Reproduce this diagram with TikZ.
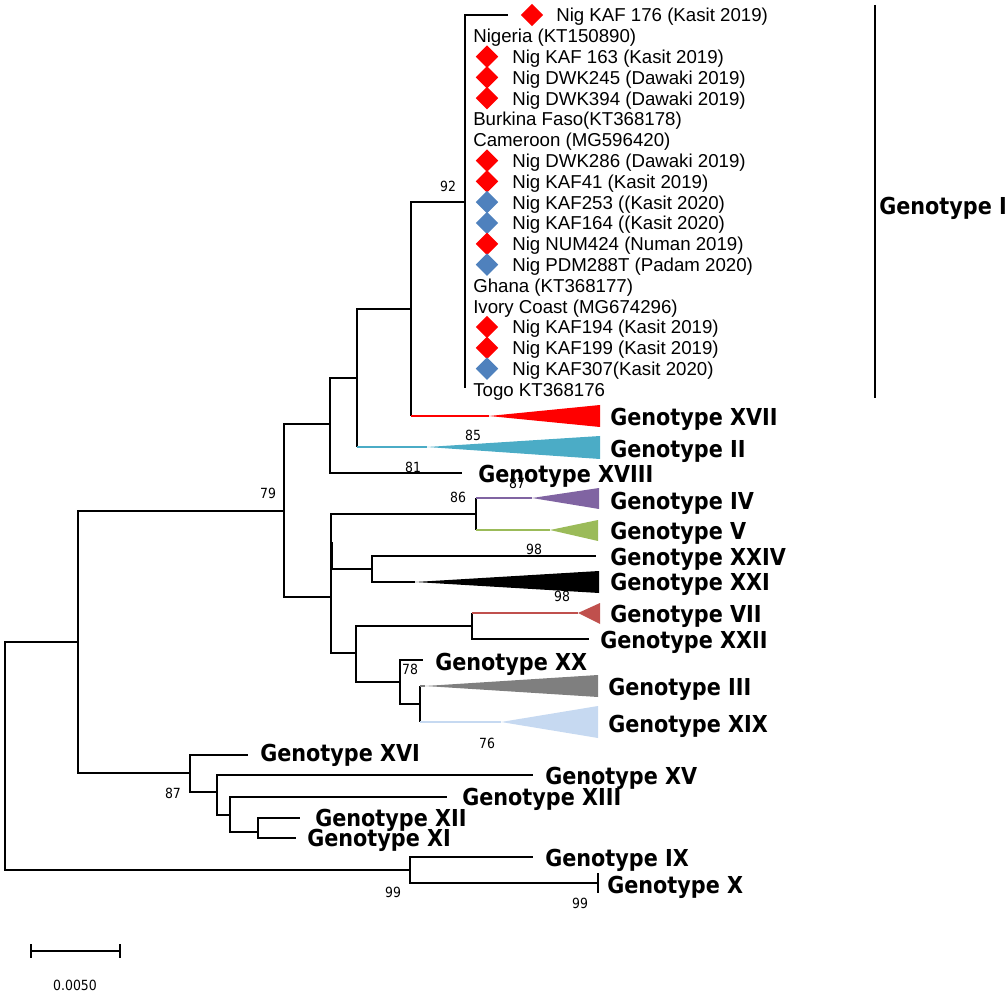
\documentclass[tikz,border=0pt]{standalone}
\usepackage{fontspec}
\setmainfont{Liberation Sans}
\newfontfamily\genofont[FakeStretch=0.89]{DejaVu Sans}
\usepackage{tikz}
\usetikzlibrary{shapes.geometric,calc}
\definecolor{gii}{HTML}{4BACC6}
\definecolor{giv}{HTML}{8064A2}
\definecolor{gv}{HTML}{9BBB59}
\definecolor{gvii}{HTML}{C0504D}
\definecolor{giii}{HTML}{7F7F7F}
\definecolor{gxix}{HTML}{C6D9F1}
\definecolor{nigblue}{HTML}{4F81BD}

\begin{document}
\begin{tikzpicture}[
x=0.75pt,
y=-0.75pt,
twig/.style={
  line width=1.1pt
  },
ctwig/.style={
  line width=0.9pt,
  draw=#1
  },
geno/.style={
  anchor=base west,
  inner sep=0pt,
  font=\genofont\bfseries\fontsize{17.5}{20}\selectfont
  },
taxon/.style={
  anchor=base west,
  inner sep=0pt,
  font=\fontsize{14}{16}\selectfont
  },
boot/.style={
  inner sep=0pt,
  font=\genofont\fontsize{10.5}{12}\selectfont
  },
dia/.style={
  diamond,
  fill=#1,
  inner sep=0pt,
  minimum size=17pt
  }
]
\useasboundingbox (0,0) rectangle (1006,994);

% internal nodes
\coordinate (root) at (5,756);
\coordinate (nB) at (78,642);
\coordinate (nC) at (284,511);
\coordinate (nH) at (330,424);
\coordinate (nQ) at (357,378);
\coordinate (nA) at (411,309);
\coordinate (nI) at (465,202);
\coordinate (nJ) at (331,597);
\coordinate (nK) at (476,514);
\coordinate (nL) at (372,569);
\coordinate (nM) at (356,653);
\coordinate (nN) at (472,626);
\coordinate (nO) at (400,682);
\coordinate (nP) at (420,704);
\coordinate (nD) at (190,773);
\coordinate (nE) at (217,792);
\coordinate (nF) at (230,815);
\coordinate (nG) at (258,832);
\coordinate (nX) at (410,870);

% tips
\coordinate (top) at (508,15);
\coordinate (togo) at (465,388);
\coordinate (tXVII) at (489,416);
\coordinate (tII) at (427,447);
\coordinate (tXVIII) at (462,473);
\coordinate (tIV) at (532,498);
\coordinate (tV) at (550,530);
\coordinate (tXXIV) at (596,556);
\coordinate (tXXI) at (415,582);
\coordinate (tVII) at (578,613);
\coordinate (tXXII) at (589,639);
\coordinate (tXX) at (423,660);
\coordinate (tIII) at (425,686);
\coordinate (tXIX) at (501,722);
\coordinate (tXVI) at (248,755);
\coordinate (tXV) at (533,775);
\coordinate (tXIII) at (447,797);
\coordinate (tXII) at (300,818);
\coordinate (tXI) at (296,838);
\coordinate (tIX) at (533,857);
\coordinate (tX) at (598,883);

\foreach \p/\c in {root/nB, root/nX, nB/nC, nB/nD, nC/nH, nC/nJ, nH/nQ, nH/tXVIII,
  nQ/nA, nA/nI, nI/top, nI/togo, nJ/nK, nJ/nL, nJ/nM, nL/tXXIV, nL/tXXI,
  nM/nN, nM/nO, nN/tXXII, nO/tXX, nO/nP, nD/tXVI, nD/nE, nE/tXV, nE/nF,
  nF/tXIII, nF/nG, nG/tXII, nG/tXI, nX/tIX, nX/tX}
  \draw[twig] (\p) |- (\c);

\foreach \p/\c/\col in {nA/tXVII/red, nQ/tII/gii, nK/tIV/giv, nK/tV/gv,
  nN/tVII/gvii, nP/tIII/giii, nP/tXIX/gxix}
{
  \draw[twig] (\p) -- (\p|-\c);
  \draw[ctwig=\col] (\p|-\c) -- (\c);
}

\draw[line width=2.2pt] ($(nJ)+(1,-55)$) -- ($(nJ)+(1,-29)$);
\draw[twig] ($(tX)+(0,-10)$) -- ($(tX)+(0,10)$);

% collapsed clades
\foreach \t/\col/\bx/\ya/\yb in {tXVII/red/600/405/427, tII/gii/600/436/459,
  tIV/giv/599/488/509, tV/gv/598/520/541, tXXI/black/599/571/593,
  tVII/gvii/600/603/624, tIII/giii/598/675/697, tXIX/gxix/598/706/738}
  \fill[\col] (\t) -- (\bx,\ya) -- (\bx,\yb) -- cycle;

% genotype I taxa
\node[dia=red] (d0) at (532,15) {};
\node[taxon] (t0) at (556,22) {Nig KAF 176 (Kasit 2019)};
\foreach \i/\txt in {1/{Nigeria (KT150890)}, 5/{Burkina Faso(KT368178)},
  6/{Cameroon (MG596420)}, 13/{Ghana (KT368177)},
  14/{Ivory Coast (MG674296)}, 18/{Togo KT368176}}
  \node[taxon] (t\i) at (473,{22+20.8*\i}) {\txt};
\foreach \i/\col/\txt in {2/red/{Nig KAF 163 (Kasit 2019)},
  3/red/{Nig DWK245 (Dawaki 2019)}, 4/red/{Nig DWK394 (Dawaki 2019)},
  7/red/{Nig DWK286 (Dawaki 2019)}, 8/red/{Nig KAF41 (Kasit 2019)},
  9/nigblue/{Nig KAF253 ((Kasit 2020)}, 10/nigblue/{Nig KAF164 ((Kasit 2020)},
  11/red/{Nig NUM424 (Numan 2019)}, 12/nigblue/{Nig PDM288T (Padam 2020)},
  15/red/{Nig KAF194 (Kasit 2019)}, 16/red/{Nig KAF199 (Kasit 2019)},
  17/nigblue/{Nig KAF307(Kasit 2020)}}
{
  \node[dia=\col] (d\i) at (487,{15+20.8*\i}) {};
  \node[taxon] (t\i) at (512,{22+20.8*\i}) {\txt};
}

\coordinate (barT) at (875,5);
\coordinate (barB) at (875,398);
\draw[line width=2.2pt] (barT) -- (barB);
\node[geno] (lI) at (879,215) {Genotype I};

\foreach \g/\lx/\ly in {XVII/610/418, II/610/449, XVIII/478/475, IV/610/501,
  V/610/531, XXIV/610/557, XXI/610/582, VII/610/614, XXII/600/640,
  XX/435/662, III/608/687, XIX/608/724, XVI/260/753, XV/545/776,
  XIII/462/797, XII/315/818, XI/307/838, IX/545/858, X/607/885}
  \node[geno] (l\g) at (\lx,{\ly+8}) {Genotype \g};

\foreach \b/\bx/\by [count=\k] in {92/448/186, 85/473/435, 81/413/467,
  87/517/483, 79/268/493, 86/458/497, 98/534/549, 98/562/596, 78/410/669,
  76/487/743, 87/173/793, 99/393/892, 99/580/903}
  \node[boot] (b\k) at (\bx,\by) {\b};

% scale bar
\coordinate (sbL) at (31,951);
\coordinate (sbR) at (120,951);
\draw[twig] (sbL) -- (sbR);
\draw[twig] ($(sbL)+(0,-7)$) -- ($(sbL)+(0,7)$);
\draw[twig] ($(sbR)+(0,-7)$) -- ($(sbR)+(0,7)$);
\node[boot] (sbtext) at (75,985) {0.0050};
\end{tikzpicture}
\end{document}
